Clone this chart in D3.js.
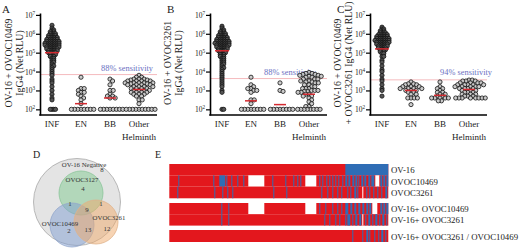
<!DOCTYPE html>
<html><head><meta charset="utf-8">
<script src="https://cdn.jsdelivr.net/npm/d3@7"></script>
<style>body{margin:0;background:#fff}svg{display:block;font-family:"Liberation Serif","DejaVu Serif",serif}</style>
</head><body><svg id="c" width="520" height="248"></svg>
<script>
// ---------------- DATA ----------------
const categories = ["INF", "EN", "BB", "Other"];
const categoryLabels = [["INF"], ["EN"], ["BB"], ["Other", "Helminth"]];
const tickExponents = [2, 3, 4, 5, 6, 7];

// values: [log10(Net RLU), number of samples]
const aINF = [[6.45,1],[6.3,1],[6.2,2],[6.1,3],[6.0,4],[5.9,5],[5.8,6],[5.7,7],[5.6,8],[5.5,9],[5.4,9],[5.3,8],[5.2,7],[5.1,6],[5.0,5],[4.9,4],[4.8,3],[4.7,2],[4.6,2],[4.5,2],[4.4,1],[4.3,2],[4.2,1],[4.1,1],[4.0,1],[3.9,1],[3.8,1],[3.6,1],[3.5,1],[3.4,1],[3.2,1],[3.0,1],[2.8,1],[2.6,1],[2.5,1],[2.0,4]];
const aEN = [[3.7,1],[3.1,2],[3.0,1],[2.9,2],[2.8,1],[2.7,1],[2.6,1],[2.5,1],[2.3,1],[2.0,8]];
const aBB = [[3.6,1],[3.5,1],[3.3,1],[3.0,2],[2.8,1],[2.7,2],[2.6,2],[2.0,8]];
const aOther = [[3.8,1],[3.7,2],[3.6,3],[3.55,2],[3.5,4],[3.4,5],[3.35,2],[3.3,4],[3.2,4],[3.1,4],[3.0,4],[2.9,4],[2.8,3],[2.7,2],[2.5,2],[2.3,1],[2.0,10]];
const aMedians = [5.0, 2.3, 2.6, 3.05];

const bINF = [[6.4,1],[6.3,1],[6.2,2],[6.1,3],[6.0,4],[5.9,5],[5.8,6],[5.7,7],[5.6,8],[5.5,9],[5.4,8],[5.3,7],[5.2,6],[5.1,5],[5.0,4],[4.9,3],[4.8,3],[4.7,2],[4.6,2],[4.5,2],[4.4,2],[4.3,1],[4.2,2],[4.1,1],[4.0,1],[3.9,1],[3.8,1],[3.7,1],[3.6,1],[3.5,1],[3.4,1],[3.3,1],[3.2,1],[3.0,1],[2.9,1],[2.0,2]];
const bEN = [[3.7,1],[3.3,1],[3.2,1],[3.1,2],[3.0,2],[2.9,1],[2.5,2],[2.3,1],[2.0,8]];
const bBB = [[3.4,1],[3.0,1],[2.95,1],[2.0,8]];
const bOther = [[3.95,1],[3.9,2],[3.85,2],[3.8,2],[3.75,2],[3.7,2],[3.6,3],[3.5,2],[3.45,2],[3.4,2],[3.3,2],[3.2,2],[3.1,3],[3.0,3],[2.95,2],[2.9,2],[2.8,2],[2.7,2],[2.6,1],[2.5,1],[2.4,1],[2.3,1],[2.15,2],[2.0,8]];
const bMedians = [5.1, 2.45, 2.25, 2.8];

const cINF = [[6.35,1],[6.25,2],[6.15,3],[6.05,4],[5.95,6],[5.85,7],[5.75,8],[5.65,9],[5.55,8],[5.45,7],[5.35,6],[5.25,5],[5.15,4],[5.05,3],[4.95,2],[4.8,2],[4.6,1],[4.5,1],[4.3,1],[4.1,1],[4.0,1],[3.8,1],[3.6,1],[3.5,1],[3.3,1],[3.1,1],[3.0,1],[2.7,1]];
const cEN = [[3.45,1],[3.35,2],[3.3,2],[3.2,3],[3.1,4],[3.0,3],[2.9,2],[2.8,2],[2.6,4],[2.25,1]];
const cBB = [[3.45,1],[3.2,1],[3.1,2],[3.0,1],[2.9,2],[2.8,2],[2.7,2],[2.6,5],[2.45,2]];
const cOther = [[3.55,2],[3.5,3],[3.4,4],[3.3,5],[3.2,5],[3.1,4],[3.0,3],[2.9,3],[2.8,3],[2.7,3],[2.6,8]];
const cMedians = [5.2, 3.0, 2.74, 3.05];

const panelLetters = ["A", "B", "C"];
const sensitivityCutoffs = [3.84, 3.63, 3.56];
const sensitivityLabels = ["88% sensitivity", "88% sensitivity", "94% sensitivity"];
const yTitles = [["OV-16 + OVOC10469", "IgG4 (Net RLU)"], ["OV-16 + OVOC3261", "IgG4 (Net RLU)"], ["OV-16 + OVOC10469", "+ OVOC3261 IgG4 (Net RLU)"]];

// Venn (D): circle names and region counts
const vennNames = ["OV-16 Negative", "OVOC3127", "OVOC10469", "OVOC3261"];
const vennRegions = ["none", "3127", "3127&10469", "all", "3127&3261", "10469", "10469&3261", "3261"];
const vennCounts = [8, 4, 1, 9, 1, 2, 13, 12];

// Heatmap (E)
const heatRows = ["OV-16", "OVOC10469", "OVOC3261", "OV-16+ OVOC10469", "OV-16+ OVOC3261", "OV-16+ OVOC3261 / OVOC10469"];
const nSamples = 219;
// runs of negative samples [start index, length]; everything else positive
const negRuns = [
  [[176,43]],
  [[9,1],[44,1],[50,6],[57,1],[62,1],[68,1],[74,1],[103,1],[116,1],[124,1],[128,1],[131,1],[150,1],[153,1],[157,1],[160,1],[163,1],[166,1],[169,1],[173,1],[176,2],[179,2],[183,2],[186,2],[189,1],[192,2],[195,2],[199,2],[202,3],[211,2],[214,2],[217,2]],
  [[8,1],[45,1],[53,1],[58,1],[63,1],[104,1],[117,1],[152,1],[158,1],[163,1],[168,1],[172,1],[178,1],[181,1],[185,2],[188,1],[197,1],[200,1],[204,1],[208,1],[212,1],[216,2]],
  [[52,1],[59,1],[150,1],[156,1],[163,1],[168,1],[172,1],[176,3],[181,2],[185,2],[189,2],[193,2],[197,2],[200,2],[211,2],[214,2],[217,2]],
  [[52,1],[59,1],[155,1],[160,1],[166,1],[170,1],[176,1],[178,3],[183,1],[186,2],[190,2],[196,1],[199,2],[203,1],[206,2],[210,1],[213,2],[217,1]],
  [[183,1],[193,1],[197,2],[200,1],[205,1],[209,1],[212,2],[216,1]]
];
// runs of missing samples [start index, length]
const missingRuns = [
  [],
  [[79,16],[136,11],[206,4]],
  [[193,1]],
  [[79,16],[136,11],[203,5]],
  [[193,1]],
  []
];

// ---------------- LAYOUT ----------------
const svg = d3.select("#c");
const RED = "#e3171d", BLUE = "#2f6db5";
const panelX = [40, 210, 370];
const titleX = [[8, 19], [167, 178], [337, 348]];
const letterX = [2, 167, 337];
const sensTextEnd = [153, 316, 492];
const sensTextY = [71, 75, 75];
const panelValues = [[aINF, aEN, aBB, aOther], [bINF, bEN, bBB, bOther], [cINF, cEN, cBB, cOther]];
const panelMedians = [aMedians, bMedians, cMedians];

function swarm(vals, sep) {
  const placed = [];
  vals.forEach(p => {
    let cands = [0];
    placed.forEach(q => {
      const dy = p.y - q.y;
      if (Math.abs(dy) < sep) {
        const dx = Math.sqrt(sep * sep - dy * dy);
        cands.push(q.dx + dx, q.dx - dx);
      }
    });
    cands.sort((a, b) => (Math.abs(a) - Math.abs(b)) || (b - a));
    for (const c of cands) {
      let ok = true;
      for (const q of placed) {
        const dy = p.y - q.y, dx = c - q.dx;
        if (dx * dx + dy * dy < sep * sep - 1e-6) { ok = false; break; }
      }
      if (ok) { p.dx = c; break; }
    }
    placed.push(p);
  });
  return placed;
}

panelX.forEach((x0, pi) => {
  const g = svg.append("g");
  const y = d3.scaleLinear().domain([1.7, 7.1]).range([115, 13]);
  const x = d3.scalePoint().domain(categories).range([x0 + 12, x0 + 99]);
  const xEnd = x0 + 117;

  // sensitivity line and label (beneath the points)
  g.append("line").attr("x1", x0).attr("x2", xEnd)
    .attr("y1", y(sensitivityCutoffs[pi])).attr("y2", y(sensitivityCutoffs[pi]))
    .attr("stroke", "#f2a9ad").attr("stroke-width", 0.8);
  g.append("text").attr("x", sensTextEnd[pi]).attr("y", sensTextY[pi])
    .attr("text-anchor", "end").attr("font-size", 8.4).attr("fill", "#6a6fc2")
    .text(sensitivityLabels[pi]);

  // points
  categories.forEach((cat, ci) => {
    const pts = [];
    panelValues[pi][ci].forEach(([v, n]) => { for (let k = 0; k < n; k++) pts.push({ v, y: y(v) }); });
    pts.sort((a, b) => a.y - b.y);
    const sep = ci === 0 ? 1.75 : 3.2;
    swarm(pts, sep);
    g.append("g").selectAll("circle").data(pts).join("circle")
      .attr("cx", d => x(cat) + d.dx).attr("cy", d => d.y).attr("r", 2.1)
      .attr("fill", ci === 0 ? "#555" : "#c4c4c4").attr("fill-opacity", ci === 0 ? 1 : 0.85)
      .attr("stroke", "#111").attr("stroke-width", 0.8);
    const m = panelMedians[pi][ci];
    const hw = ci === 0 ? 7 : 6;
    g.append("line").attr("x1", x(cat) - hw).attr("x2", x(cat) + hw)
      .attr("y1", y(m)).attr("y2", y(m)).attr("stroke", "#d42a30").attr("stroke-width", 1.5);
  });

  // axes
  const ya = d3.axisLeft(y).tickValues(tickExponents).tickSize(4).tickSizeOuter(0).tickFormat(() => "");
  const ag = g.append("g").attr("transform", `translate(${x0},0)`).call(ya);
  ag.select(".domain").attr("stroke-width", 1.6);
  ag.selectAll(".tick line").attr("stroke-width", 1.2);
  tickExponents.forEach(e => {
    const t = g.append("text").attr("x", x0 - 5).attr("y", y(e) + 3).attr("text-anchor", "end").attr("font-size", 7.5).attr("fill", "#222");
    t.append("tspan").text("10");
    t.append("tspan").attr("dy", -3).attr("font-size", 5.2).text(e);
  });
  g.append("line").attr("x1", x0 - 0.8).attr("x2", xEnd).attr("y1", 115).attr("y2", 115)
    .attr("stroke", "#000").attr("stroke-width", 1.6);
  categories.forEach((cat, ci) => {
    categoryLabels[ci].forEach((lab, li) => {
      g.append("text").attr("x", x(cat)).attr("y", 127 + li * 12.5).attr("text-anchor", "middle")
        .attr("font-size", 9).attr("fill", "#222").text(lab);
    });
  });

  // y titles
  yTitles[pi].forEach((t, li) => {
    g.append("text").attr("transform", `translate(${titleX[pi][li]},63) rotate(-90)`)
      .attr("text-anchor", "middle").attr("dominant-baseline", "central")
      .attr("font-size", 9.8).attr("fill", "#222").text(t);
  });
  g.append("text").attr("x", letterX[pi]).attr("y", 13).attr("font-size", 11).attr("fill", "#222").text(panelLetters[pi]);
});

// ---------------- VENN (D) ----------------
const vg = svg.append("g");
const vennCircles = [
  { cx: 77, cy: 202, r: 43.5, fill: "#e4e4e4", op: 1, stroke: "#a8a8a8" },
  { cx: 81, cy: 193, r: 22, fill: "#7fc98f", op: 0.5, stroke: "#8cc59a" },
  { cx: 72, cy: 225, r: 22, fill: "#7f9ed2", op: 0.5, stroke: "#93a7cc" },
  { cx: 96, cy: 222, r: 22, fill: "#f0a96a", op: 0.5, stroke: "#e0b28a" }
];
vg.selectAll("circle").data(vennCircles).join("circle")
  .attr("cx", d => d.cx).attr("cy", d => d.cy).attr("r", d => d.r)
  .attr("fill", d => d.fill).attr("fill-opacity", d => d.op)
  .attr("stroke", d => d.stroke).attr("stroke-width", 0.8);
const vennNamePos = [[84, 164], [82, 179], [60, 223], [109, 217]];
vennNames.forEach((n, i) => vg.append("text").attr("x", vennNamePos[i][0]).attr("y", vennNamePos[i][1])
  .attr("text-anchor", "middle").attr("dominant-baseline", "central").attr("font-size", 6.8).attr("fill", "#333").text(n));
const vennCountPos = [[102, 169.5], [83, 188.5], [70, 203], [87, 209], [101, 203], [69, 230.5], [88, 229.5], [107, 228]];
vennCounts.forEach((c, i) => vg.append("text").attr("x", vennCountPos[i][0]).attr("y", vennCountPos[i][1])
  .attr("text-anchor", "middle").attr("dominant-baseline", "central").attr("font-size", 6.8).attr("fill", "#333").text(c));
svg.append("text").attr("x", 33).attr("y", 158).attr("font-size", 10).attr("fill", "#222").text("D");
svg.append("text").attr("x", 155).attr("y", 158).attr("font-size", 10).attr("fill", "#222").text("E");

// ---------------- HEATMAP (E) ----------------
const hg = svg.append("g");
const xH = d3.scaleLinear().domain([0, nSamples]).range([169.3, 388.3]);
const rowTop = [164, 175.3, 186.7, 203, 214.2, 230];
const rowH = [11.3, 11.4, 11.6, 11.2, 11.4, 12];
heatRows.forEach((name, ri) => {
  hg.append("rect").attr("x", xH(0)).attr("y", rowTop[ri]).attr("width", xH(nSamples) - xH(0)).attr("height", rowH[ri]).attr("fill", RED);
  hg.append("g").selectAll("rect").data(negRuns[ri]).join("rect")
    .attr("x", d => xH(d[0])).attr("width", d => xH(d[0] + d[1]) - xH(d[0]))
    .attr("y", rowTop[ri]).attr("height", rowH[ri]).attr("fill", BLUE);
  hg.append("g").selectAll("rect").data(missingRuns[ri]).join("rect")
    .attr("x", d => xH(d[0])).attr("width", d => xH(d[0] + d[1]) - xH(d[0]))
    .attr("y", rowTop[ri]).attr("height", rowH[ri]).attr("fill", "#fff");
  hg.append("text").attr("x", 391).attr("y", rowTop[ri] + rowH[ri] / 2 + 0.5).attr("dominant-baseline", "central")
    .attr("font-size", 8.8).attr("fill", "#222").text(name);
});
</script></body></html>
